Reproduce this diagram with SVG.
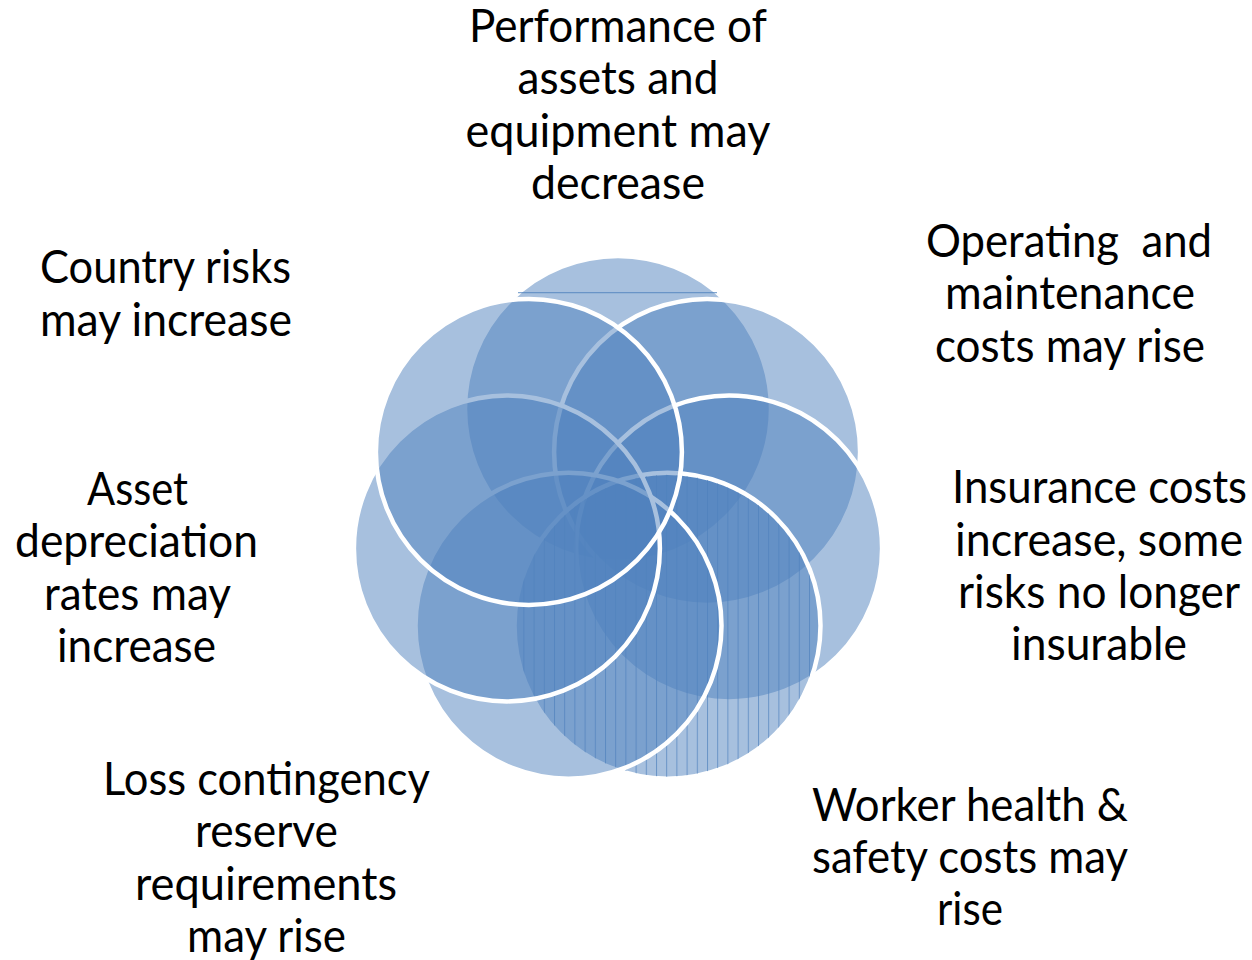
<svg xmlns="http://www.w3.org/2000/svg" width="1252" height="960" viewBox="0 0 1252 960">
  <defs>
    <style>
      .c { fill: rgba(79,129,189,0.5); stroke: #ffffff; stroke-width: 4.5; }
      .t { font-family: Lato, "Liberation Sans", sans-serif; font-size: 46px; fill: #000000; text-anchor: middle; }
    </style>
    <pattern id="hatch" patternUnits="userSpaceOnUse" x="605" y="0" width="10.2" height="20">
      <line x1="0.5" y1="0" x2="0.5" y2="20" stroke="#4F81BD" stroke-width="1" stroke-opacity="0.7"/>
    </pattern>
    <clipPath id="clip4">
      <circle cx="667.5" cy="625.7" r="151"/>
    </clipPath>
  </defs>
  <rect width="1252" height="960" fill="#ffffff"/>

  <g id="circles">
    <g id="node1">
      <circle class="c" cx="618" cy="409" r="153"/>
      <line x1="518" y1="292.7" x2="717" y2="292.7" stroke="#4F81BD" stroke-width="1.2" stroke-opacity="0.7"/>
    </g>
    <g id="node2"><circle class="c" cx="707.1" cy="451.9" r="153"/></g>
    <g id="node3"><circle class="c" cx="729.1" cy="548.4" r="153"/></g>
    <g id="node4">
      <circle class="c" cx="667.5" cy="625.7" r="153"/>
      <rect x="515" y="473" width="306" height="306" fill="url(#hatch)" clip-path="url(#clip4)"/>
    </g>
    <g id="node5"><circle class="c" cx="568.5" cy="625.7" r="153"/></g>
    <g id="node6"><circle class="c" cx="506.9" cy="548.4" r="153"/></g>
    <g id="node7"><circle class="c" cx="528.9" cy="451.9" r="153"/></g>
  </g>

  <g id="connectors"></g>

  <g id="label1">
    <text class="t" x="618" y="42" textLength="298" lengthAdjust="spacingAndGlyphs">Performance of</text>
    <text class="t" x="618" y="94" textLength="201" lengthAdjust="spacingAndGlyphs">assets and</text>
    <text class="t" x="618" y="146.5" textLength="305" lengthAdjust="spacingAndGlyphs">equipment may</text>
    <text class="t" x="618" y="199" textLength="174" lengthAdjust="spacingAndGlyphs">decrease</text>
  </g>
  <g id="label2">
    <text class="t" x="1069" y="257" xml:space="preserve" textLength="286" lengthAdjust="spacingAndGlyphs">Operating  and</text>
    <text class="t" x="1070" y="309" textLength="250" lengthAdjust="spacingAndGlyphs">maintenance</text>
    <text class="t" x="1070" y="361.5" textLength="270" lengthAdjust="spacingAndGlyphs">costs may rise</text>
  </g>
  <g id="label3">
    <text class="t" x="1099.5" y="503" textLength="295" lengthAdjust="spacingAndGlyphs">Insurance costs</text>
    <text class="t" x="1099" y="555.5" textLength="288" lengthAdjust="spacingAndGlyphs">increase, some</text>
    <text class="t" x="1099" y="608" textLength="282" lengthAdjust="spacingAndGlyphs">risks no longer</text>
    <text class="t" x="1099" y="660" textLength="176" lengthAdjust="spacingAndGlyphs">insurable</text>
  </g>
  <g id="label4">
    <text class="t" x="970" y="821" textLength="316" lengthAdjust="spacingAndGlyphs">Worker health &amp;</text>
    <text class="t" x="970" y="873" textLength="316" lengthAdjust="spacingAndGlyphs">safety costs may</text>
    <text class="t" x="970" y="925" textLength="66" lengthAdjust="spacingAndGlyphs">rise</text>
  </g>
  <g id="label5">
    <text class="t" x="266.5" y="795" textLength="327" lengthAdjust="spacingAndGlyphs">Loss contingency</text>
    <text class="t" x="266.5" y="847" textLength="143" lengthAdjust="spacingAndGlyphs">reserve</text>
    <text class="t" x="266" y="899.5" textLength="262" lengthAdjust="spacingAndGlyphs">requirements</text>
    <text class="t" x="266.5" y="952" textLength="159" lengthAdjust="spacingAndGlyphs">may rise</text>
  </g>
  <g id="label6">
    <text class="t" x="137.5" y="505" textLength="101" lengthAdjust="spacingAndGlyphs">Asset</text>
    <text class="t" x="136.5" y="557" textLength="243" lengthAdjust="spacingAndGlyphs">depreciation</text>
    <text class="t" x="137.5" y="609.5" textLength="187" lengthAdjust="spacingAndGlyphs">rates may</text>
    <text class="t" x="136.5" y="662" textLength="159" lengthAdjust="spacingAndGlyphs">increase</text>
  </g>
  <g id="label7">
    <text class="t" x="165.5" y="283" textLength="251" lengthAdjust="spacingAndGlyphs">Country risks</text>
    <text class="t" x="166" y="335.5" textLength="252" lengthAdjust="spacingAndGlyphs">may increase</text>
  </g>
</svg>
